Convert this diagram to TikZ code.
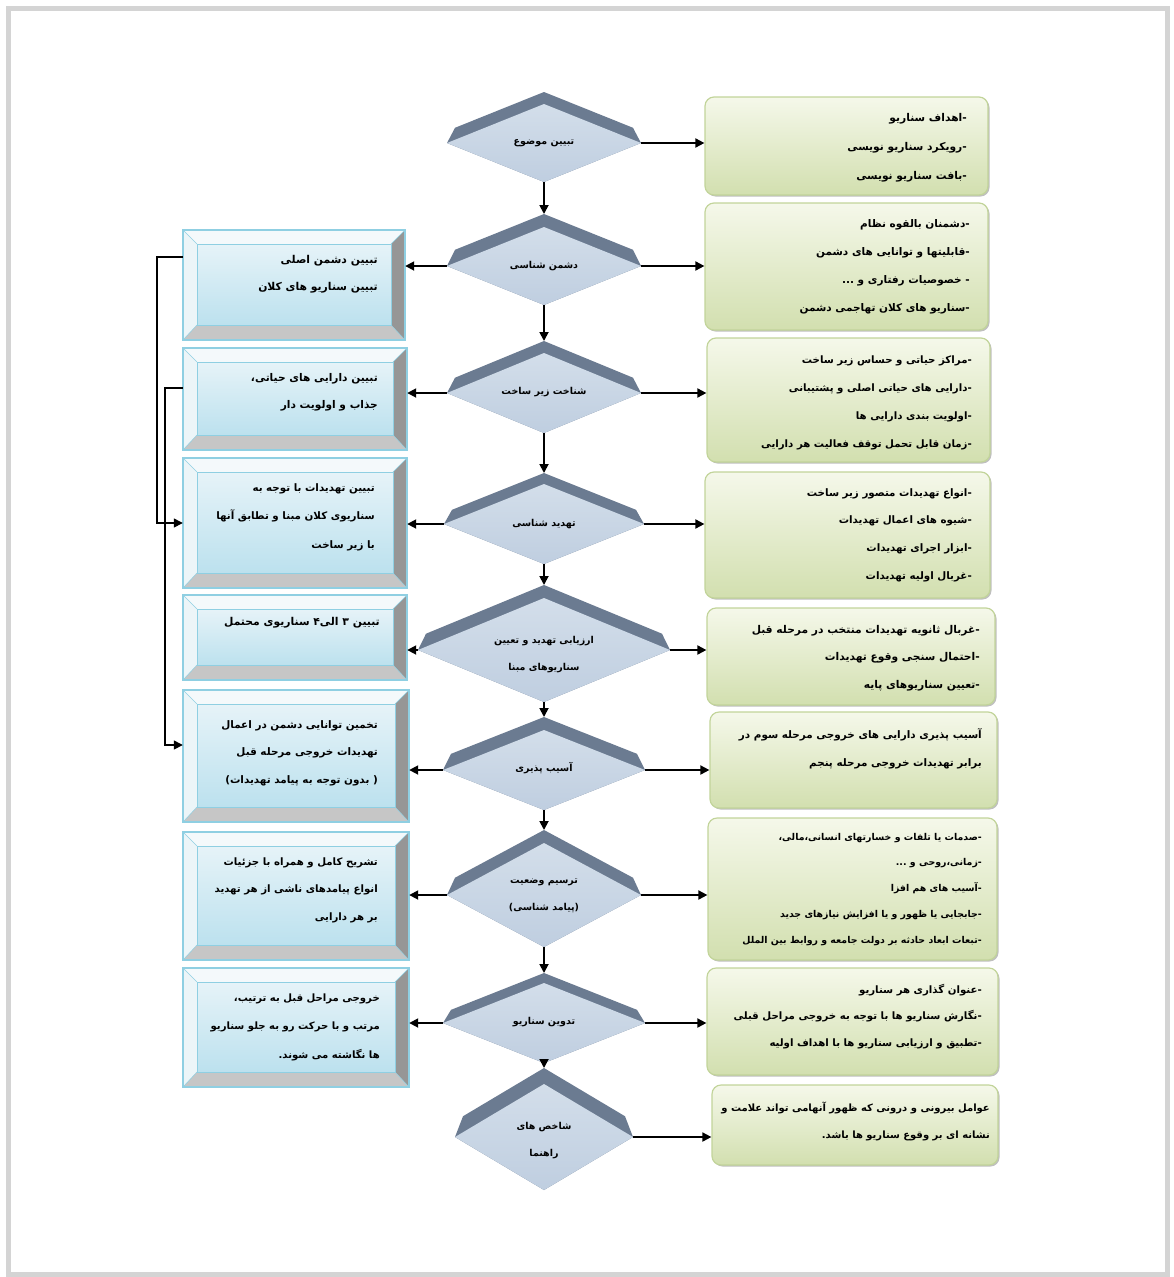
\documentclass[tikz,border=0pt]{standalone}
\usepackage{fontspec}
\newfontfamily\fa[Script=Arabic, BoldFont=DejaVu Sans Bold]{DejaVu Sans}
\TeXXeTstate=1
\usetikzlibrary{arrows.meta,fit,shadows}
\newcommand\rl[1]{\beginR #1\endR}
\newcommand\fs{\rule{0pt}{9pt}}
\definecolor{bandc}{HTML}{6B7B91}
\definecolor{facetop}{HTML}{D3DEEA}
\definecolor{facemid}{HTML}{EFF3F8}
\definecolor{facebot}{HTML}{BFCEE0}
\definecolor{rtop}{HTML}{F5F8EA}
\definecolor{rbot}{HTML}{D2DFAF}
\definecolor{rline}{HTML}{C2D49A}
\definecolor{ltop}{HTML}{E6F3F8}
\definecolor{lbot}{HTML}{BCE1EE}
\definecolor{lline}{HTML}{8FCFE2}
\definecolor{bvlight}{HTML}{F4F9FB}
\definecolor{bvleft}{HTML}{ECF5F8}
\definecolor{bvright}{HTML}{969696}
\definecolor{bvbot}{HTML}{C6C6C6}
\definecolor{framec}{HTML}{D4D4D4}
% diamond: name cx cy w h t
\newcommand\dia[6]{%
  \coordinate (#1t) at (#2,#3-#5-#6);
  \coordinate (#1b) at (#2,#3+#5);
  \coordinate (#1l) at (#2-#4,#3);
  \coordinate (#1r) at (#2+#4,#3);
  \fill[bandc] (#2,#3-#5-#6) -- (#2+#4-8,{#3-#6-#5*8/#4}) -- (#2+#4,#3) -- (#2,#3+#5) -- (#2-#4,#3) -- (#2-#4+8,{#3-#6-#5*8/#4}) -- cycle;
  \shade[top color=facetop, middle color=facemid, bottom color=facebot] (#2,#3-#5) -- (#2+#4,#3) -- (#2,#3+#5) -- (#2-#4,#3) -- cycle;
}
% left bevel box: name x1 y1 x2 y2
\newcommand\lbox[5]{%
  \node[fit={(#2,#3) (#4,#5)}, inner sep=0pt] (#1) {};
  \fill[bvlight] (#2,#3) -- (#4,#3) -- (#4-14,#3+14) -- (#2+14,#3+14) -- cycle;
  \fill[bvleft] (#2,#3) -- (#2,#5) -- (#2+14,#5-15) -- (#2+14,#3+14) -- cycle;
  \fill[bvright] (#4,#3) -- (#4,#5) -- (#4-14,#5-15) -- (#4-14,#3+14) -- cycle;
  \fill[bvbot] (#2,#5) -- (#4,#5) -- (#4-14,#5-15) -- (#2+14,#5-15) -- cycle;
  \draw[lline, line width=0.5pt] (#2,#3) -- (#2+14,#3+14) (#4,#3) -- (#4-14,#3+14) (#2,#5) -- (#2+14,#5-15) (#4,#5) -- (#4-14,#5-15);
  \shade[top color=ltop, bottom color=lbot, draw=lline, line width=1pt] (#2+14,#3+14) rectangle (#4-14,#5-15);
  \draw[lline, line width=1.3pt] (#2,#3) rectangle (#4,#5);
}
\begin{document}
\begin{tikzpicture}[x=1pt,y=-1pt,
  arr/.style={-{Triangle[length=9pt,width=9pt]}, line width=1.8pt, black},
  link/.style={-{Triangle[length=9pt,width=9pt]}, line width=1.4pt, black},
  rbox/.style={rounded corners=9pt, draw=rline, line width=1.2pt, top color=rtop, bottom color=rbot,
    drop shadow={shadow xshift=1.5pt, shadow yshift=-1.5pt, opacity=0.25, fill=black}},
  txt/.style={inner sep=0pt, anchor=north east, align=right},
  dtxt/.style={inner sep=0pt, align=center, font=\fa\bfseries\fontsize{9.5}{27}\selectfont},
]
\useasboundingbox (0,0) rectangle (1173,1277);
\draw[framec, line width=5pt] (8,8) rectangle (1167,1274);

% right boxes
\node[rbox, fit={(705,97) (988,195)}, inner sep=0pt] (R1) {};
\node[rbox, fit={(705,203) (988,330)}, inner sep=0pt] (R2) {};
\node[rbox, fit={(707,338) (990,462)}, inner sep=0pt] (R3) {};
\node[rbox, fit={(705,472) (990,598)}, inner sep=0pt] (R4) {};
\node[rbox, fit={(707,608) (995,705)}, inner sep=0pt] (R5) {};
\node[rbox, fit={(710,712) (997,808)}, inner sep=0pt] (R6) {};
\node[rbox, fit={(708,818) (997,960)}, inner sep=0pt] (R7) {};
\node[rbox, fit={(707,968) (998,1075)}, inner sep=0pt] (R8) {};
\node[rbox, fit={(712,1085) (998,1165)}, inner sep=0pt] (R9) {};

% left boxes
\lbox{L1}{183}{230}{405}{340}
\lbox{L2}{183}{348}{407}{450}
\lbox{L3}{183}{458}{407}{588}
\lbox{L4}{183}{595}{407}{680}
\lbox{L5}{183}{690}{409}{822}
\lbox{L6}{183}{832}{409}{960}
\lbox{L7}{183}{968}{409}{1087}

% diamonds
\dia{d1}{544}{143}{97}{39}{12}
\dia{d2}{544}{266}{97}{39}{13}
\dia{d3}{544}{393}{97}{40}{12}
\dia{d4}{544}{524}{100}{40}{11}
\dia{d5}{544}{650}{126}{52}{13}
\dia{d6}{544}{770}{101}{40}{13}
\dia{d7}{544}{895}{97}{52}{13}
\dia{d8}{544}{1023}{101}{40}{10}
\dia{d9}{544}{1137}{89}{53}{16}

% diamond texts
\node[dtxt] (d1x) at (544,143) {\rl{تبیین موضوع}};
\node[dtxt] (d2x) at (544,266) {\rl{دشمن شناسی}};
\node[dtxt] (d3x) at (544,392) {\rl{شناخت زیر ساخت}};
\node[dtxt] (d4x) at (544,524) {\rl{تهدید شناسی}};
\node[dtxt] (d5x) at (544,655) {\rl{ارزیابی تهدید و تعیین}\\\rl{سناریوهای مبنا}};
\node[dtxt] (d6x) at (544,768) {\rl{آسیب پذیری}};
\node[dtxt] (d7x) at (544,896) {\rl{ترسیم وضعیت}\\\rl{(پیامد شناسی)}};
\node[dtxt] (d8x) at (544,1022) {\rl{تدوین سناریو}};
\node[dtxt] (d9x) at (544,1141) {\rl{شاخص های}\\\rl{راهنما}};

% vertical arrows
\draw[arr] (d1b) -- (d2t);
\draw[arr] (d2b) -- (d3t);
\draw[arr] (d3b) -- (d4t);
\draw[arr] (d4b) -- (d5t);
\draw[arr] (d5b) -- (d6t);
\draw[arr] (d6b) -- (d7t);
\draw[arr] (d7b) -- (d8t);
\draw[arr] (d8b) -- (d9t);

% right arrows
\draw[arr] (d1r) -- (d1r -| R1.west);
\draw[arr] (d2r) -- (d2r -| R2.west);
\draw[arr] (d3r) -- (d3r -| R3.west);
\draw[arr] (d4r) -- (d4r -| R4.west);
\draw[arr] (d5r) -- (d5r -| R5.west);
\draw[arr] (d6r) -- (d6r -| R6.west);
\draw[arr] (d7r) -- (d7r -| R7.west);
\draw[arr] (d8r) -- (d8r -| R8.west);
\draw[arr] (d9r) -- (d9r -| R9.west);

% left arrows
\draw[arr] (d2l) -- (d2l -| L1.east);
\draw[arr] (d3l) -- (d3l -| L2.east);
\draw[arr] (d4l) -- (d4l -| L3.east);
\draw[arr] (d5l) -- (d5l -| L4.east);
\draw[arr] (d6l) -- (d6l -| L5.east);
\draw[arr] (d7l) -- (d7l -| L6.east);
\draw[arr] (d8l) -- (d8l -| L7.east);

% left feedback links
\draw[link] ([yshift=28pt]L1.west) -- ++(-26,0) |- (L3.west);
\draw[link] ([yshift=11pt]L2.west) -- ++(-18,0) |- ([yshift=11pt]L5.west);

% right texts
\begin{scope}[every node/.append style={txt}]
\node[font=\fa\bfseries\fontsize{10.7}{29}\selectfont] (R1t) at (967,112) {\fs\rl{اهداف سناریو}-\\\rl{رویکرد سناریو نویسی}-\\\rl{بافت سناریو نویسی}-};
\node[font=\fa\bfseries\fontsize{10.5}{28}\selectfont] (R2t) at (970,218) {\fs\rl{دشمنان بالقوه نظام}-\\\rl{قابلیتها و توانایی های دشمن}-\\\rl{خصوصیات رفتاری و ...}\ -\\\rl{سناریو های کلان تهاجمی دشمن}-};
\node[font=\fa\bfseries\fontsize{10.2}{28}\selectfont] (R3t) at (972,354) {\fs\rl{مراکز حیاتی و حساس زیر ساخت}-\\\rl{دارایی های حیاتی اصلی و پشتیبانی}-\\\rl{اولویت بندی دارایی ها}-\\\rl{زمان قابل تحمل توقف فعالیت هر دارایی}-};
\node[font=\fa\bfseries\fontsize{10.3}{27.7}\selectfont] (R4t) at (972,487) {\fs\rl{انواع تهدیدات متصور زیر ساخت}-\\\rl{شیوه های اعمال تهدیدات}-\\\rl{ابزار اجرای تهدیدات}-\\\rl{غربال اولیه تهدیدات}-};
\node[font=\fa\bfseries\fontsize{10.7}{27.5}\selectfont] (R5t) at (980,624) {\fs\rl{غربال ثانویه تهدیدات منتخب در مرحله قبل}-\\\rl{احتمال سنجی وقوع تهدیدات}-\\\rl{تعیین سناریوهای پایه}-};
\node[font=\fa\bfseries\fontsize{10.4}{28}\selectfont] (R6t) at (982,728) {\fs\rl{آسیب پذیری دارایی های خروجی مرحله سوم در}\\\rl{برابر  تهدیدات خروجی مرحله پنجم}};
\node[font=\fa\bfseries\fontsize{9.4}{25.75}\selectfont] (R7t) at (982,831) {\fs\rl{صدمات یا تلفات و خسارتهای انسانی،مالی،}-\\\rl{زمانی،روحی و ...}-\\\rl{آسیب های هم افزا}-\\\rl{جابجایی یا ظهور و یا افزایش نیازهای جدید}-\\\rl{تبعات ابعاد حادثه بر دولت جامعه و روابط بین الملل}-};
\node[font=\fa\bfseries\fontsize{10.2}{26.5}\selectfont] (R8t) at (982,984) {\fs\rl{عنوان گذاری هر سناریو}-\\\rl{نگارش سناریو ها با توجه به خروجی مراحل قبلی}-\\\rl{تطبیق و ارزیابی سناریو ها با اهداف اولیه}-};
\node[font=\fa\bfseries\fontsize{10}{27}\selectfont] (R9t) at (990,1102) {\fs\rl{عوامل بیرونی و درونی که ظهور آنهامی تواند علامت و}\\\rl{نشانه ای بر وقوع سناریو ها باشد.}};

% left texts
\node[font=\fa\bfseries\fontsize{10.8}{27}\selectfont] (L1t) at (378,254) {\fs\rl{تبیین دشمن اصلی}\\\rl{تبیین سناریو های کلان}};
\node[font=\fa\bfseries\fontsize{10.6}{27}\selectfont] (L2t) at (378,372) {\fs\rl{تبیین دارایی های حیاتی،}\\\rl{جذاب و اولویت دار}};
\node[font=\fa\bfseries\fontsize{10.3}{28.5}\selectfont] (L3t) at (375,482) {\fs\rl{تبیین تهدیدات با توجه به}\\\rl{سناریوی کلان مبنا و تطابق آنها}\\\rl{با زیر ساخت}};
\node[font=\fa\bfseries\fontsize{10.8}{27}\selectfont] (L4t) at (380,616) {\fs\rl{تبیین ۳ الی۴ سناریوی محتمل}};
\node[font=\fa\bfseries\fontsize{10.4}{27.5}\selectfont] (L5t) at (378,719) {\fs\rl{تخمین توانایی دشمن در اعمال}\\\rl{تهدیدات خروجی مرحله قبل}\\\rl{( بدون توجه به پیامد تهدیدات)}};
\node[font=\fa\bfseries\fontsize{10.2}{27.5}\selectfont] (L6t) at (378,856) {\fs\rl{تشریح کامل و همراه با جزئیات}\\\rl{انواع پیامدهای ناشی از هر تهدید}\\\rl{بر هر دارایی}};
\node[font=\fa\bfseries\fontsize{10.1}{28.5}\selectfont] (L7t) at (380,992) {\fs\rl{خروجی مراحل قبل به ترتیب،}\\\rl{مرتب و با حرکت رو به جلو سناریو}\\\rl{ها نگاشته می شوند.}};
\end{scope}
\end{tikzpicture}
\end{document}
